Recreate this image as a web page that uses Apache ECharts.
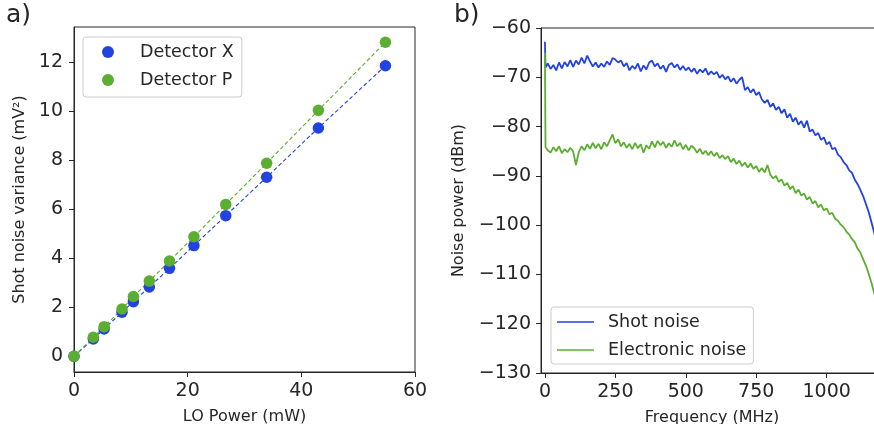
<!DOCTYPE html>
<html>
<head>
<meta charset="utf-8">
<script src="https://cdn.jsdelivr.net/npm/echarts@6/dist/echarts.min.js"></script>
<style>
  html, body { margin: 0; padding: 0; background: #fff; }
  #chart { width: 874px; height: 424px; }
</style>
</head>
<body>
<div id="chart"></div>
<script>
// panel a) shot noise variance vs LO power
var loPower = [0, 3.4, 5.3, 8.45, 10.45, 13.25, 16.8, 21.1, 26.7, 33.9, 43.0, 54.8];
var detX = [0, 0.71, 1.12, 1.8, 2.23, 2.83, 3.59, 4.52, 5.74, 7.31, 9.32, 11.86];
var detP = [0, 0.78, 1.21, 1.93, 2.44, 3.07, 3.89, 4.88, 6.2, 7.88, 10.04, 12.82];
var varianceTicks = [0, 2, 4, 6, 8, 10, 12];

// panel b) noise spectra
var freq = [0, 2,
  10, 20, 30, 40, 50, 60, 70, 80, 90, 100,
  110, 120, 130, 140, 150, 160, 170, 180, 190, 200,
  210, 220, 230, 240, 250, 260, 270, 280, 290, 300,
  310, 320, 330, 340, 350, 360, 370, 380, 390, 400,
  410, 420, 430, 440, 450, 460, 470, 480, 490, 500,
  510, 520, 530, 540, 550, 560, 570, 580, 590, 600,
  610, 620, 630, 640, 650, 660, 670, 680, 690, 700,
  710, 720, 730, 740, 750, 760, 770, 780, 790, 800,
  810, 820, 830, 840, 850, 860, 870, 880, 890, 900,
  910, 920, 930, 940, 950, 960, 970, 980, 990, 1000,
  1010, 1020, 1030, 1040, 1050, 1060, 1070, 1080, 1090, 1100,
  1110, 1120, 1130, 1140, 1150, 1160, 1170, 1180];
var shotNoise = [-62.8, -68.0,
  -67.2, -68.3, -67.5, -68.6, -67.0, -68.2, -66.9, -67.8, -66.5, -67.9,
  -66.6, -67.4, -66.0, -67.2, -65.6, -66.8, -67.8, -67.0, -68.0, -67.2,
  -67.9, -66.8, -67.5, -66.1, -66.4, -67.0, -66.6, -67.8, -67.1, -68.6,
  -67.7, -68.3, -67.2, -68.8, -67.6, -68.4, -67.0, -66.6, -67.8, -67.2,
  -68.3, -67.6, -68.9, -67.5, -67.1, -68.0, -67.4, -68.5, -67.7, -68.6,
  -68.0, -68.9, -68.2, -69.3, -68.4, -69.0, -68.2, -69.5, -68.8, -69.4,
  -68.9, -70.1, -69.5, -70.4, -69.8, -70.9, -70.2, -71.3, -70.5, -70.0,
  -72.6, -72.0, -73.1, -72.4, -73.6, -73.0, -74.5, -75.2, -74.6, -76.0,
  -75.3, -76.6, -76.0, -77.3, -76.5, -78.2, -77.4, -79.0, -78.2, -79.6,
  -78.9, -80.2, -78.8, -81.0, -80.6, -81.8, -81.3, -82.7, -82.2, -83.6,
  -83.1, -84.6, -84.3, -85.7, -86.2, -87.2, -87.8, -88.9, -89.4, -90.8,
  -91.7, -92.9, -94.2, -95.8, -97.5, -99.6, -101.8, -104.3];
var electronicNoise = [-65.0, -84.2,
  -84.8, -85.3, -84.2, -85.0, -84.0, -85.4, -84.6, -85.2, -84.3, -85.0,
  -87.8, -85.2, -84.0, -84.8, -83.6, -84.5, -83.3, -84.4, -83.5, -84.6,
  -83.2, -84.0, -82.8, -81.6, -83.4, -82.6, -84.0, -83.2, -84.3, -83.5,
  -84.6, -83.3, -84.4, -83.6, -85.3, -83.8, -84.5, -83.0, -84.2, -82.9,
  -83.8, -83.1, -84.3, -83.4, -84.1, -82.8, -84.0, -83.3, -84.6, -83.7,
  -84.8, -83.9, -84.4, -85.3, -84.5, -85.6, -84.9, -85.8, -85.0, -86.0,
  -85.3, -86.4, -85.8, -86.6, -86.0, -87.2, -86.5, -87.6, -86.9, -88.0,
  -87.3, -88.3, -87.5, -88.6, -88.0, -89.2, -88.4, -89.3, -87.8, -89.8,
  -90.5, -90.0, -91.2, -90.7, -92.0, -91.4, -92.7, -92.1, -93.5, -92.8,
  -94.0, -93.6, -94.8, -94.3, -95.6, -95.1, -96.4, -95.8, -97.0, -96.6,
  -97.8, -97.5, -98.7, -99.1, -99.9, -100.4, -101.3, -101.9, -102.8, -103.5,
  -104.8, -105.6, -107.0, -108.3, -110.0, -111.9, -114.0, -116.5];
var freqTicks = [0, 250, 500, 750, 1000];

var BLUE = '#2343e0';
var GREEN = '#5cae32';
var INK = '#262626';
var FONT = 'DejaVu Sans';

function pairs(xs, ys) {
  return xs.map(function (x, i) { return [x, ys[i]]; });
}
function plain(v) {
  return String(v).replace('-', '\u2212');
}

var axisCommon = {
  axisLine: { show: true, onZero: false, lineStyle: { color: INK, width: 1 } },
  axisTick: { show: true, length: 5, lineStyle: { color: INK } },
  splitLine: { show: false },
  axisLabel: { color: INK, fontFamily: FONT, fontSize: 19, formatter: plain },
  nameTextStyle: { color: INK, fontFamily: FONT, fontSize: 16 }
};
function axis(extra) {
  return echarts.util.merge(echarts.util.clone(axisCommon), extra, true);
}

var myChart = echarts.init(document.getElementById('chart'), null, { renderer: 'canvas' });

var option = {
  animation: false,
  backgroundColor: '#fff',
  title: [
    { text: 'a)', left: 6, top: 3, padding: 0, textStyle: { fontFamily: FONT, fontSize: 25, fontWeight: 'normal', color: INK } },
    { text: 'b)', left: 454, top: 3, padding: 0, textStyle: { fontFamily: FONT, fontSize: 25, fontWeight: 'normal', color: INK } }
  ],
  grid: [
    { left: 74, top: 27, width: 341, height: 345, show: true, borderColor: INK, borderWidth: 1, outerBoundsMode: 'none' },
    { left: 541, top: 28, width: 342, height: 345, show: true, borderColor: INK, borderWidth: 1, outerBoundsMode: 'none' }
  ],
  xAxis: [
    axis({
      gridIndex: 0, type: 'value', min: 0, max: 60, interval: 20,
      name: 'LO Power (mW)', nameLocation: 'middle', nameGap: 37,
      axisLabel: { margin: 10 }
    }),
    axis({
      gridIndex: 1, type: 'value', min: -14, max: 1200,
      name: 'Frequency (MHz)', nameLocation: 'middle', nameGap: 37,
      axisTick: { customValues: freqTicks },
      axisLabel: { margin: 10, customValues: freqTicks }
    })
  ],
  yAxis: [
    axis({
      gridIndex: 0, type: 'value', min: -0.64, max: 13.44,
      name: 'Shot noise variance (mV\u00b2)', nameLocation: 'middle', nameGap: 46,
      axisTick: { customValues: varianceTicks },
      axisLabel: { margin: 11, customValues: varianceTicks }
    }),
    axis({
      gridIndex: 1, type: 'value', min: -130, max: -60, interval: 10,
      name: 'Noise power (dBm)', nameLocation: 'middle', nameGap: 74,
      axisLabel: { margin: 10 }
    })
  ],
  legend: [
    {
      data: ['Detector X', 'Detector P'],
      orient: 'vertical', left: 83, top: 37,
      padding: [6, 8, 8, 19], itemGap: 10,
      itemWidth: 12, itemHeight: 12, icon: 'circle',
      backgroundColor: 'rgba(255,255,255,0.8)', borderColor: '#cccccc', borderWidth: 1, borderRadius: 3,
      textStyle: { fontFamily: FONT, fontSize: 17.5, lineHeight: 18, color: INK, padding: [0, 0, 0, 21] }
    },
    {
      data: ['Shot noise', 'Electronic noise'],
      orient: 'vertical', left: 551, top: 307,
      padding: [6, 7, 5, 6], itemGap: 10,
      itemWidth: 37, itemHeight: 1.6, icon: 'rect',
      backgroundColor: 'rgba(255,255,255,0.8)', borderColor: '#cccccc', borderWidth: 1, borderRadius: 3,
      textStyle: { fontFamily: FONT, fontSize: 17.5, lineHeight: 18, color: INK, padding: [0, 0, 0, 9] }
    }
  ],
  series: [
    {
      name: 'X fit', type: 'line', xAxisIndex: 0, yAxisIndex: 0,
      data: pairs(loPower, detX), symbol: 'none',
      lineStyle: { color: BLUE, width: 1.1, type: [4, 2.5] }, z: 2
    },
    {
      name: 'P fit', type: 'line', xAxisIndex: 0, yAxisIndex: 0,
      data: pairs(loPower, detP), symbol: 'none',
      lineStyle: { color: GREEN, width: 1.1, type: [4, 2.5] }, z: 2
    },
    {
      name: 'Detector X', type: 'scatter', xAxisIndex: 0, yAxisIndex: 0,
      data: pairs(loPower, detX), symbolSize: 11.5,
      itemStyle: { color: BLUE, opacity: 1 }, z: 3
    },
    {
      name: 'Detector P', type: 'scatter', xAxisIndex: 0, yAxisIndex: 0,
      data: pairs(loPower, detP), symbolSize: 11.5,
      itemStyle: { color: GREEN, opacity: 1 }, z: 4
    },
    {
      name: 'Shot noise', type: 'line', xAxisIndex: 1, yAxisIndex: 1,
      data: pairs(freq, shotNoise), symbol: 'none',
      lineStyle: { color: BLUE, width: 1.8 }, itemStyle: { color: BLUE }
    },
    {
      name: 'Electronic noise', type: 'line', xAxisIndex: 1, yAxisIndex: 1,
      data: pairs(freq, electronicNoise), symbol: 'none',
      lineStyle: { color: GREEN, width: 1.8 }, itemStyle: { color: GREEN }
    }
  ]
};

myChart.setOption(option);
</script>
</body>
</html>
